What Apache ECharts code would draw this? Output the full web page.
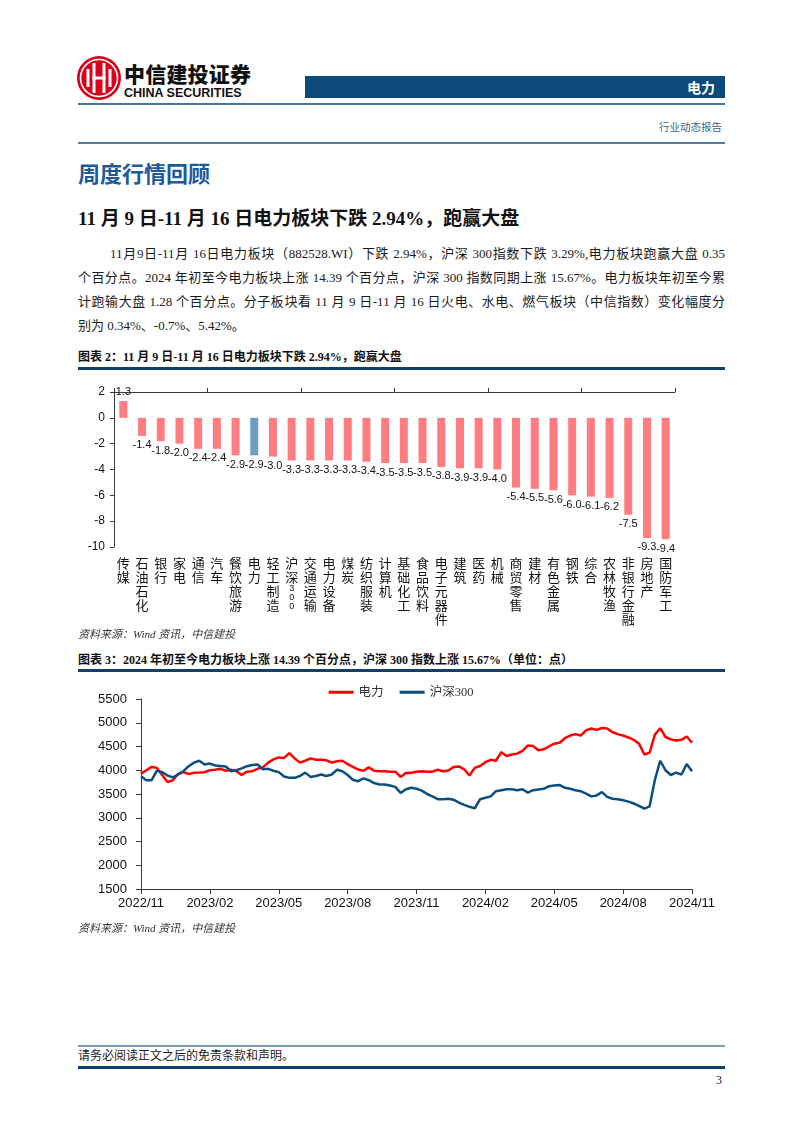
<!DOCTYPE html>
<html><head><meta charset="utf-8">
<script src="https://cdn.jsdelivr.net/npm/echarts@6/dist/echarts.min.js"></script>
<style>
html,body{margin:0;padding:0;background:#fff;}
body{width:802px;height:1133px;position:relative;overflow:hidden;font-family:"Liberation Serif","Noto Sans CJK SC",serif;color:#111;}
.abs{position:absolute;}
.rule{position:absolute;left:78px;width:647px;}
.pl{position:absolute;font-size:13px;height:20px;line-height:20px;text-align:justify;text-align-last:justify;color:#1a1a1a;}
.cap{position:absolute;left:78px;font-size:12px;font-weight:bold;line-height:16px;color:#111;}
.src{position:absolute;left:78px;font-size:11px;font-style:italic;line-height:14px;color:#333;}
</style>
</head><body>

<svg class="abs" style="left:76px;top:55px" width="46" height="46" viewBox="0 0 46 46">
<circle cx="23" cy="23" r="22" fill="#d9001b"/>
<circle cx="23" cy="23" r="18.5" fill="none" stroke="#fff" stroke-width="1.6"/>
<rect x="10.5" y="14" width="3" height="18" fill="#fff"/>
<rect x="32.5" y="14" width="3" height="18" fill="#fff"/>
<rect x="16.5" y="8" width="3" height="30" fill="#fff"/>
<rect x="26.5" y="8" width="3" height="30" fill="#fff"/>
<rect x="16.5" y="21.5" width="13" height="3" fill="#fff"/>
</svg>
<div class="abs" style="left:124px;top:60px;font-family:'Noto Sans CJK SC';font-weight:900;font-size:21px;line-height:26px;color:#111;letter-spacing:0.2px;">中信建投证券</div>
<div class="abs" style="left:124px;top:86px;font-family:'Liberation Sans';font-weight:bold;font-size:12.5px;line-height:15px;color:#111;">CHINA SECURITIES</div>
<div class="abs" style="left:305px;top:76px;width:420px;height:22px;background:#0c4a7b;"></div>
<div class="abs" style="left:305px;top:76px;width:410px;height:22px;line-height:22px;text-align:right;color:#fff;font-family:'Noto Sans CJK SC';font-weight:bold;font-size:14px;">电力</div>
<div class="rule" style="top:103px;height:2px;background:#44739b;"></div>
<div class="abs" style="left:600px;width:122px;top:120px;text-align:right;font-size:10.5px;line-height:16px;color:#3f6687;">行业动态报告</div>
<div class="rule" style="top:142px;height:2px;background:#4f7ca3;"></div>

<div class="abs" style="left:78px;top:157px;font-family:'Noto Sans CJK SC';font-weight:bold;font-size:22px;line-height:30px;color:#1c5a9a;">周度行情回顾</div>
<div class="abs" style="left:78px;top:206px;font-weight:bold;font-size:19px;line-height:26px;color:#111;">11 月 9 日-11 月 16 日电力板块下跌 2.94%，跑赢大盘</div>

<div class="pl" style="left:110px;width:615px;top:244px;">11月9日-11月 16日电力板块（882528.WI）下跌 2.94%，沪深 300指数下跌 3.29%,电力板块跑赢大盘 0.35</div>
<div class="pl" style="left:78px;width:647px;top:268px;">个百分点。2024 年初至今电力板块上涨 14.39 个百分点，沪深 300 指数同期上涨 15.67%。电力板块年初至今累</div>
<div class="pl" style="left:78px;width:647px;top:292px;">计跑输大盘 1.28 个百分点。分子板块看 11 月 9 日-11 月 16 日火电、水电、燃气板块（中信指数）变化幅度分</div>
<div class="pl" style="left:78px;width:647px;top:316px;text-align:left;text-align-last:left;">别为 0.34%、-0.7%、5.42%。</div>

<div class="cap" style="top:349px;">图表 2：11 月 9 日-11 月 16 日电力板块下跌 2.94%，跑赢大盘</div>
<div class="rule" style="top:367px;height:3px;background:#123f6b;"></div>
<div id="c1" class="abs" style="left:0;top:370px;width:802px;height:262px;"></div>
<div class="src" style="top:627px;">资料来源：Wind 资讯，中信建投</div>

<div class="cap" style="top:652px;">图表 3：2024 年初至今电力板块上涨 14.39 个百分点，沪深 300 指数上涨 15.67%（单位：点）</div>
<div class="rule" style="top:669px;height:3px;background:#123f6b;"></div>
<div id="c2" class="abs" style="left:0;top:672px;width:802px;height:250px;"></div>
<div class="src" style="top:921px;">资料来源：Wind 资讯，中信建投</div>

<div class="rule" style="top:1045px;height:2px;background:#7b9cb6;"></div>
<div class="abs" style="left:78px;top:1048px;font-size:12px;line-height:16px;color:#222;">请务必阅读正文之后的免责条款和声明。</div>
<div class="rule" style="top:1066px;height:3px;background:#0e3f6f;"></div>
<div class="abs" style="left:700px;width:22px;top:1072px;text-align:right;font-size:12px;line-height:16px;color:#222;">3</div>

<script>
// ---------- 图表2 data ----------
const sectors = ['传媒','石油石化','银行','家电','通信','汽车','餐饮旅游','电力','轻工制造','沪深300','交通运输','电力设备','煤炭','纺织服装','计算机','基础化工','食品饮料','电子元器件','建筑','医药','机械','商贸零售','建材','有色金属','钢铁','综合','农林牧渔','非银行金融','房地产','国防军工'];
const weeklyChange = [1.3,-1.4,-1.8,-2.0,-2.4,-2.4,-2.9,-2.9,-3.0,-3.3,-3.3,-3.3,-3.3,-3.4,-3.5,-3.5,-3.5,-3.8,-3.9,-3.9,-4.0,-5.4,-5.5,-5.6,-6.0,-6.1,-6.2,-7.5,-9.3,-9.4];
const highlightSector = '电力';

// ---------- 图表3 data (weekly, 2022/11/18 - 2024/11/15) ----------
const xTickLabels = ['2022/11','2023/02','2023/05','2023/08','2023/11','2024/02','2024/05','2024/08','2024/11'];
const powerIndex = [3930,4000,4070,4050,3900,3750,3790,3920,3960,3920,3945,3950,3960,4000,4010,4030,3990,4010,3980,3900,
 3970,3980,4030,4060,4160,4230,4270,4260,4360,4250,4160,4200,4250,4220,4220,4210,4160,4190,4200,4130,
 4070,4015,3990,4060,3990,3980,3980,3970,3970,3860,3940,3945,3970,3980,3970,3970,4010,3980,3995,4070,
 4080,4020,3890,4050,4090,4170,4220,4200,4380,4300,4330,4350,4410,4520,4510,4420,4440,4500,4560,4580,
 4675,4730,4760,4730,4840,4880,4850,4890,4880,4800,4760,4730,4690,4640,4560,4330,4370,4750,4885,4700,
 4650,4625,4640,4710,4580];
const hs300Index = [3875,3790,3790,3990,3960,3890,3850,3910,3980,4085,4160,4200,4120,4140,4100,4090,4080,3980,4000,4040,
 4085,4110,4120,4020,4030,3990,3960,3870,3840,3840,3880,3950,3860,3880,3910,3880,3910,4010,3980,3900,
 3800,3770,3830,3790,3730,3700,3700,3680,3650,3520,3600,3630,3610,3570,3500,3450,3390,3390,3400,3380,
 3320,3270,3230,3200,3390,3420,3450,3560,3580,3600,3600,3580,3600,3530,3580,3595,3610,3665,3680,3690,
 3630,3610,3580,3560,3510,3450,3470,3540,3440,3400,3390,3370,3340,3300,3250,3190,3240,3800,4200,4000,
 3900,3950,3910,4130,3980];
const weekDates = [];
(function(){ const d0 = new Date(Date.UTC(2022,10,18)); for (let i=0;i<powerIndex.length;i++){ const d=new Date(d0.getTime()+i*7*86400000); weekDates.push(d.getUTCFullYear()+'/'+String(d.getUTCMonth()+1).padStart(2,'0')+'/'+String(d.getUTCDate()).padStart(2,'0')); } })();

const axisColor = '#3a3a3a';

// ---------- Chart 2 ----------
const c1 = echarts.init(document.getElementById('c1'), null, {renderer:'canvas'});
c1.setOption({
  animation:false,
  grid:{left:114,right:127,top:22,bottom:85,containLabel:false},
  xAxis:[{
    type:'category', data:sectors, position:'bottom',
    axisLine:{show:false}, axisTick:{show:false},
    axisLabel:{interval:0, margin:9, color:'#111', fontFamily:'Noto Sans CJK SC', fontSize:13, lineHeight:14,
      formatter:function(v){ return v.split('').map(function(c){ return /[0-9]/.test(c) ? '{d|'+c+'}' : c; }).join('\n'); },
      rich:{d:{fontSize:9, lineHeight:9, fontFamily:'Liberation Sans', color:'#111'}}}
  },{
    type:'category', data:sectors, position:'top',
    axisLine:{show:true, onZero:true, lineStyle:{color:axisColor,width:1}},
    axisTick:{show:true, length:4, lineStyle:{color:axisColor}},
    axisLabel:{show:false}
  }],
  yAxis:{type:'value', min:-10, max:2, interval:2,
    axisLine:{show:true, lineStyle:{color:axisColor}},
    axisTick:{show:true, length:4, lineStyle:{color:axisColor}},
    splitLine:{show:false},
    axisLabel:{color:'#111', fontFamily:'Liberation Sans', fontSize:12, margin:9}
  },
  series:[{
    type:'bar', xAxisIndex:0, barWidth:8,
    data: weeklyChange.map(function(v,i){
      return {value:v,
        itemStyle:{color: sectors[i]===highlightSector ? '#6f9cc1' : '#ff7c80'},
        label:{position: v>=0 ? 'top' : 'bottom'}};
    }),
    label:{show:true, distance:4, color:'#111', fontFamily:'Liberation Sans', fontSize:11,
      formatter:function(p){ return Number(p.value).toFixed(1); }}
  }]
});

// ---------- Chart 3 ----------
const c2 = echarts.init(document.getElementById('c2'), null, {renderer:'canvas'});
c2.setOption({
  animation:false,
  legend:{top:9, left:'center', icon:'rect', itemWidth:25, itemHeight:3, itemGap:16,
    textStyle:{fontFamily:'Liberation Serif, Noto Sans CJK SC', fontSize:12.5, color:'#333'},
    data:['电力','沪深300']},
  grid:{left:141,right:110,top:27,bottom:33,containLabel:false},
  xAxis:{type:'category', data:weekDates, boundaryGap:false,
    axisLine:{show:true, lineStyle:{color:axisColor}},
    axisTick:{show:true, interval:12, length:5, lineStyle:{color:axisColor}},
    axisLabel:{interval:12, margin:8, color:'#111', fontFamily:'Liberation Sans', fontSize:13,
      formatter:function(v,idx){ return idx%13===0 ? xTickLabels[idx/13] : ''; }}
  },
  yAxis:{type:'value', min:1500, max:5500, interval:500,
    axisLine:{show:true, lineStyle:{color:axisColor}},
    axisTick:{show:true, length:5, lineStyle:{color:axisColor}},
    splitLine:{show:false},
    axisLabel:{color:'#111', fontFamily:'Liberation Sans', fontSize:13, margin:14,
      formatter:function(v){ return String(v); }}
  },
  series:[
    {name:'电力', type:'line', data:powerIndex, showSymbol:false, symbol:'none', color:'#ff0000', lineStyle:{width:2.5, color:'#ff0000'}},
    {name:'沪深300', type:'line', data:hs300Index, showSymbol:false, symbol:'none', color:'#0b4f80', lineStyle:{width:2.5, color:'#0b4f80'}}
  ]
});
</script>
</body></html>
